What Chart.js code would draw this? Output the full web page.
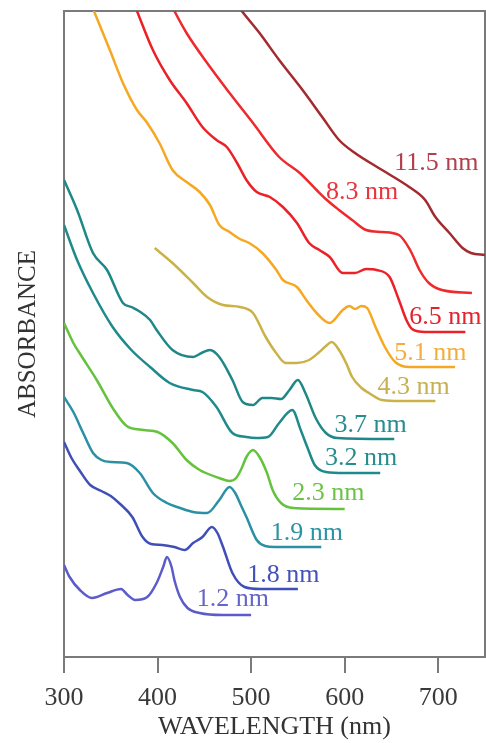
<!DOCTYPE html>
<html>
<head>
<meta charset="utf-8">
<script src="https://cdn.jsdelivr.net/npm/chart.js@4/dist/chart.umd.min.js"></script>
<style>
  html, body { margin: 0; padding: 0; background: #ffffff; }
  canvas { display: block; }
</style>
</head>
<body>
<canvas id="spectra" width="486" height="743"></canvas>
<script>
// Absorption spectra of nanocrystals of increasing diameter (stacked, arbitrary offsets)
const sizeLabels = ['1.2 nm', '1.8 nm', '1.9 nm', '2.3 nm', '3.2 nm', '3.7 nm', '4.3 nm', '5.1 nm', '6.5 nm', '8.3 nm', '11.5 nm'];
const xTicks = [300, 400, 500, 600, 700];

const wl_1_2  = [300, 306, 317, 330, 346, 361, 368, 376, 389, 399, 406, 410, 415, 418, 424, 432, 445, 470, 500];
const abs_1_2 = [0.92, 0.80, 0.67, 0.59, 0.64, 0.68, 0.62, 0.57, 0.60, 0.74, 0.90, 1.00, 0.90, 0.77, 0.60, 0.49, 0.44, 0.42, 0.42];

const wl_1_8  = [300, 308, 317, 328, 340, 350, 360, 373, 384, 393, 405, 418, 429, 438, 448, 458, 464, 470, 480, 493, 510, 550];
const abs_1_8 = [2.15, 1.99, 1.86, 1.72, 1.66, 1.61, 1.53, 1.40, 1.20, 1.13, 1.12, 1.10, 1.07, 1.14, 1.20, 1.30, 1.24, 1.10, 0.84, 0.70, 0.68, 0.68];

const wl_1_9  = [300, 310, 320, 331, 340, 350, 367, 381, 395, 410, 424, 438, 453, 466, 477, 483, 489, 495, 506, 515, 525, 575];
const abs_1_9 = [2.60, 2.45, 2.25, 2.04, 1.97, 1.95, 1.94, 1.84, 1.64, 1.54, 1.49, 1.45, 1.44, 1.57, 1.70, 1.64, 1.52, 1.40, 1.17, 1.11, 1.10, 1.10];

const wl_2_3  = [300, 310, 320, 335, 352, 367, 385, 400, 416, 431, 445, 466, 477, 484, 490, 495, 502, 509, 517, 523, 532, 545, 600];
const abs_2_3 = [3.34, 3.14, 2.99, 2.77, 2.49, 2.31, 2.27, 2.25, 2.14, 1.97, 1.87, 1.79, 1.76, 1.79, 1.89, 2.00, 2.07, 2.00, 1.84, 1.67, 1.54, 1.49, 1.48];

const wl_3_2  = [300, 314, 331, 352, 372, 392, 413, 438, 448, 463, 480, 495, 505, 518, 530, 544, 553, 560, 568, 580, 600, 638];
const abs_3_2 = [4.32, 3.97, 3.64, 3.30, 3.07, 2.90, 2.74, 2.67, 2.65, 2.50, 2.24, 2.20, 2.19, 2.20, 2.34, 2.47, 2.27, 2.10, 1.92, 1.85, 1.84, 1.84];

const wl_3_7  = [300, 314, 331, 346, 363, 372, 380, 392, 399, 416, 438, 447, 456, 466, 480, 491, 502, 512, 522, 532, 541, 550, 558, 569, 580, 592, 653];
const abs_3_7 = [4.77, 4.47, 4.04, 3.87, 3.54, 3.50, 3.46, 3.37, 3.27, 3.07, 3.00, 3.04, 3.07, 3.00, 2.77, 2.55, 2.52, 2.59, 2.59, 2.58, 2.67, 2.77, 2.64, 2.39, 2.24, 2.19, 2.18];

const wl_4_3  = [397, 416, 438, 453, 470, 488, 502, 515, 526, 537, 549, 562, 573, 580, 586, 594, 602, 608, 618, 626, 640, 660, 697];
const abs_4_3 = [4.09, 3.94, 3.74, 3.60, 3.52, 3.50, 3.44, 3.21, 3.05, 2.94, 2.94, 2.97, 3.05, 3.11, 3.15, 3.07, 2.93, 2.80, 2.69, 2.64, 2.57, 2.56, 2.56];

const wl_5_1  = [325, 332, 349, 363, 378, 389, 402, 416, 431, 445, 456, 466, 477, 488, 498, 512, 527, 534, 549, 559, 570, 584, 598, 605, 611, 618, 624, 633, 643, 654, 669, 718];
const abs_5_1 = [6.62, 6.46, 6.07, 5.74, 5.47, 5.34, 5.14, 4.87, 4.75, 4.65, 4.52, 4.32, 4.25, 4.18, 4.14, 4.04, 3.87, 3.77, 3.70, 3.57, 3.44, 3.34, 3.47, 3.51, 3.48, 3.51, 3.49, 3.30, 3.10, 2.95, 2.90, 2.90];

const wl_6_5  = [370, 378, 395, 413, 431, 448, 463, 474, 485, 495, 506, 520, 534, 549, 562, 573, 584, 598, 611, 623, 634, 648, 658, 666, 672, 686, 729];
const abs_6_5 = [6.65, 6.46, 6.07, 5.77, 5.54, 5.30, 5.17, 5.10, 4.94, 4.77, 4.65, 4.60, 4.50, 4.34, 4.14, 4.07, 4.00, 3.84, 3.84, 3.88, 3.87, 3.80, 3.57, 3.37, 3.28, 3.25, 3.25];

const wl_8_3  = [408, 418, 431, 453, 477, 502, 530, 552, 570, 581, 594, 608, 623, 640, 658, 670, 680, 690, 704, 736];
const abs_8_3 = [6.65, 6.46, 6.24, 5.94, 5.64, 5.34, 5.00, 4.84, 4.67, 4.57, 4.47, 4.37, 4.27, 4.25, 4.22, 4.07, 3.87, 3.74, 3.67, 3.64];

const wl_11_5  = [475, 490, 509, 530, 555, 576, 594, 611, 640, 669, 686, 697, 712, 726, 735, 750];
const abs_11_5 = [6.65, 6.46, 6.24, 5.97, 5.67, 5.40, 5.17, 5.04, 4.87, 4.70, 4.57, 4.40, 4.24, 4.09, 4.04, 4.02];

// Per-curve styling and where each size tag sits (wavelength, absorbance of its left-middle point)
const curves = [
  { wl: wl_1_2,  abs: abs_1_2,  line: '#5b5bcc', text: '#6464cc', tag: [442, 0.58] },
  { wl: wl_1_8,  abs: abs_1_8,  line: '#3f4fb6', text: '#4352b8', tag: [496, 0.82] },
  { wl: wl_1_9,  abs: abs_1_9,  line: '#2a90a4', text: '#2a94a2', tag: [521, 1.24] },
  { wl: wl_2_3,  abs: abs_2_3,  line: '#64c23c', text: '#6cc244', tag: [544, 1.64] },
  { wl: wl_3_2,  abs: abs_3_2,  line: '#1f8a8c', text: '#278c8c', tag: [579, 1.99] },
  { wl: wl_3_7,  abs: abs_3_7,  line: '#1f8887', text: '#278c8c', tag: [589, 2.32] },
  { wl: wl_4_3,  abs: abs_4_3,  line: '#cab247', text: '#c8b052', tag: [635, 2.70] },
  { wl: wl_5_1,  abs: abs_5_1,  line: '#f6a822', text: '#f2ae3c', tag: [653, 3.04] },
  { wl: wl_6_5,  abs: abs_6_5,  line: '#ec2128', text: '#e4222c', tag: [669, 3.40] },
  { wl: wl_8_3,  abs: abs_8_3,  line: '#ee2a2c', text: '#e8343c', tag: [580, 4.65] },
  { wl: wl_11_5, abs: abs_11_5, line: '#a32a2e', text: '#b0404c', tag: [653, 4.94] }
];

const serif = '"Liberation Serif", "DejaVu Serif", serif';
const frameColor = '#7a7a7a';

const datasets = curves.map((c, i) => ({
  label: sizeLabels[i],
  data: c.wl.map((w, k) => ({ x: w, y: c.abs[k] })),
  borderColor: c.line,
  borderWidth: 2.5,
  pointRadius: 0,
  fill: false,
  cubicInterpolationMode: 'monotone'
}));

// Writes the particle-size tag beside each spectrum
const sizeTags = {
  id: 'sizeTags',
  afterDatasetsDraw(chart) {
    const { ctx, scales: { x, y } } = chart;
    ctx.save();
    ctx.font = '26px ' + serif;
    ctx.textAlign = 'left';
    ctx.textBaseline = 'middle';
    curves.forEach((c, i) => {
      ctx.fillStyle = c.text;
      ctx.fillText(sizeLabels[i], x.getPixelForValue(c.tag[0]), y.getPixelForValue(c.tag[1]));
    });
    ctx.restore();
  }
};

new Chart(document.getElementById('spectra'), {
  type: 'line',
  data: { datasets },
  plugins: [sizeTags],
  options: {
    responsive: false,
    animation: false,
    devicePixelRatio: 1,
    layout: { padding: { top: 11, right: 1, left: 0, bottom: 0 } },
    plugins: { legend: { display: false }, tooltip: { enabled: false } },
    scales: {
      x: {
        type: 'linear',
        position: 'bottom',
        min: 300,
        max: 750,
        afterBuildTicks: (scale) => { scale.ticks = xTicks.map(v => ({ value: v })); },
        ticks: { font: { family: serif, size: 26 }, color: '#3a3a3a', padding: 10, maxRotation: 0 },
        grid: { display: true, drawOnChartArea: false, drawTicks: true, tickLength: 16, color: frameColor, lineWidth: 2 },
        border: { display: true, color: frameColor, width: 2 },
        title: { display: true, text: 'WAVELENGTH (nm)', font: { family: serif, size: 26 }, color: '#333333', padding: { top: -12.4, bottom: 0 } }
      },
      y: {
        type: 'linear',
        position: 'left',
        min: 0,
        max: 6.46,
        ticks: { display: false },
        grid: { display: false, drawTicks: false },
        border: { display: true, color: frameColor, width: 2 },
        title: { display: true, text: 'ABSORBANCE', font: { family: serif, size: 25 }, color: '#333333', padding: { top: 13, bottom: 21 } }
      },
      xTop: {
        type: 'linear',
        axis: 'x',
        position: 'top',
        ticks: { display: false },
        grid: { display: false, drawTicks: false },
        border: { display: true, color: frameColor, width: 2 }
      },
      yRight: {
        type: 'linear',
        axis: 'y',
        position: 'right',
        ticks: { display: false },
        grid: { display: false, drawTicks: false },
        border: { display: true, color: frameColor, width: 2 }
      }
    }
  }
});
</script>
</body>
</html>
